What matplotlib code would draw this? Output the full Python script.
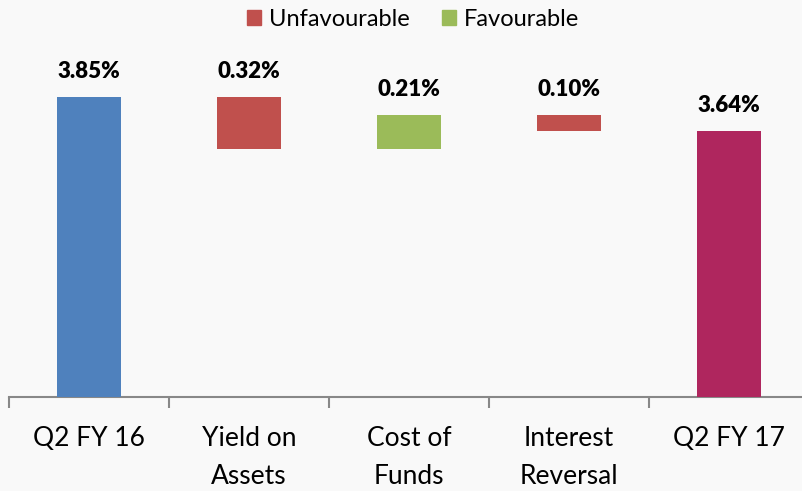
import matplotlib.pyplot as plt
import numpy as np

plt.rcParams['font.family'] = ['Lato', 'DejaVu Sans']

# margin walk, in percent
categories = ['Q2 FY 16', 'Yield on\nAssets', 'Cost of\nFunds', 'Interest\nReversal', 'Q2 FY 17']
start_value = 3.85
changes = [-0.32, 0.21, -0.10]
end_value = 3.64

c_start = '#4F81BD'
c_bad = '#C0504D'
c_good = '#9BBB59'
c_end = '#AF265E'

fig = plt.figure(figsize=(8.02, 4.91), dpi=100)
fig.patch.set_facecolor('#f9f9f9')

ax = fig.add_axes([9 / 802, 1 - 397 / 491, 800 / 802, 2.2 * 162 / 491])
ax.patch.set_alpha(0)

x = np.arange(len(categories))
w = 0.4

# running levels
levels = [start_value]
for ch in changes:
    levels.append(levels[-1] + ch)

ax.bar(x[0], start_value - 2, bottom=2, width=w, color=c_start, zorder=3)
for i, ch in enumerate(changes):
    lo = min(levels[i], levels[i + 1])
    ax.bar(x[i + 1], abs(ch), bottom=lo, width=w,
           color=c_bad if ch < 0 else c_good, zorder=3)
ax.bar(x[4], end_value - 2, bottom=2, width=w, color=c_end, zorder=3)

labels = [start_value] + [abs(c) for c in changes] + [end_value]
tops = [start_value] + [max(levels[i], levels[i + 1]) for i in range(3)] + [end_value]
for xi, top, val in zip(x, tops, labels):
    ax.annotate(f'{val:.2f}%', (xi, top), xytext=(0, 11), textcoords='offset points',
                ha='center', va='bottom', fontsize=16, fontweight='heavy', color='black')

ax.set_xlim(-0.5, 4.5)
ax.set_ylim(2, 4.2)
ax.set_yticks([])
for s in ['top', 'right', 'left']:
    ax.spines[s].set_visible(False)
ax.spines['bottom'].set_color('#888888')
ax.spines['bottom'].set_linewidth(1.5)

ax.set_xticks(x)
ax.set_xticklabels(categories, fontsize=19, linespacing=1.65, va='top')
ax.tick_params(axis='x', which='major', length=0, pad=21)
ax.set_xticks(np.arange(-0.5, 5, 1), minor=True)
ax.tick_params(axis='x', which='minor', length=8, width=1.5, color='#888888')

hb = plt.Rectangle((0, 0), 1, 1, color=c_bad)
hg = plt.Rectangle((0, 0), 1, 1, color=c_good)
fig.legend([hb, hg], ['Unfavourable', 'Favourable'], loc='center',
           bbox_to_anchor=(0.515, 0.961), ncol=2, frameon=False, fontsize=17,
           handlelength=0.6, handleheight=0.6, handletextpad=0.3, columnspacing=1.4)

fig.savefig('out.png', dpi=100, facecolor=fig.get_facecolor())
